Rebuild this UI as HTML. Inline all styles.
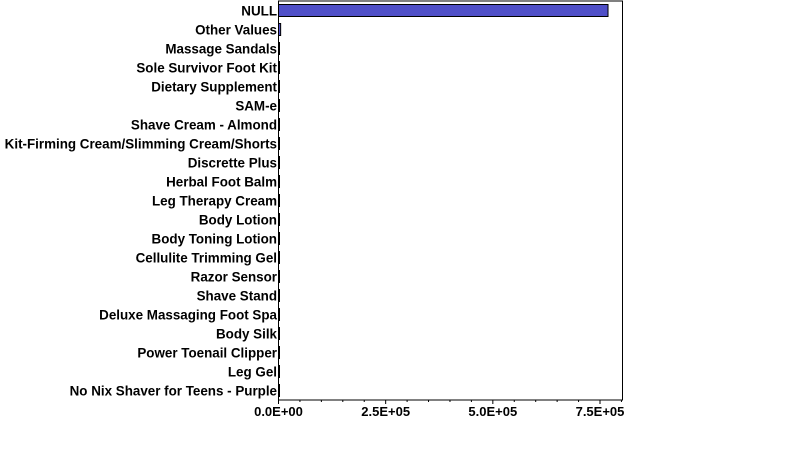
<!DOCTYPE html>
<html><head><meta charset="utf-8"><style>
body{margin:0;background:#fff;width:790px;height:444px;overflow:hidden}
svg text{font-family:"Liberation Sans",sans-serif;font-weight:bold;font-size:13.4px;fill:#000}
svg text.tick{font-size:13px}
</style></head><body>
<svg id="chart" width="790" height="444" xmlns="http://www.w3.org/2000/svg"></svg>
<script>
const categories=["NULL","Other Values","Massage Sandals","Sole Survivor Foot Kit","Dietary Supplement","SAM-e","Shave Cream - Almond","Kit-Firming Cream/Slimming Cream/Shorts","Discrette Plus","Herbal Foot Balm","Leg Therapy Cream","Body Lotion","Body Toning Lotion","Cellulite Trimming Gel","Razor Sensor","Shave Stand","Deluxe Massaging Foot Spa","Body Silk","Power Toenail Clipper","Leg Gel","No Nix Shaver for Teens - Purple"];
const values=[768700,5000,1500,1200,1100,1000,900,900,800,800,700,700,600,600,500,500,500,400,400,300,300];
const tickValues=[0,250000,500000,750000];
const tickLabels=["0.0E+00","2.5E+05","5.0E+05","7.5E+05"];
const svgEl=document.getElementById('chart');
const NS="http://www.w3.org/2000/svg";
const x0=278.5,pxPer=321.5/750000,plotTop=1,rowH=19,plotLeft=278.5,plotRight=622.5,plotBottom=400;
const xs=v=>x0+v*pxPer;
function mk(t,a){const e=document.createElementNS(NS,t);for(const k in a)e.setAttribute(k,a[k]);svgEl.appendChild(e);return e;}
const frame=mk('rect',{x:plotLeft,y:plotTop,width:plotRight-plotLeft,height:plotBottom-plotTop,fill:'#fff',stroke:'#000','stroke-width':1});


categories.forEach((c,i)=>{
  const cy=plotTop+rowH*i+9.5;
  const t=mk('text',{x:277,y:cy+5,'text-anchor':'end'});t.textContent=c;
  
  
  const w=Math.max(xs(values[i])-x0,1);
  const b=mk('rect',{x:x0,y:cy-6,width:w,height:12,fill:'#5050c8',stroke:'#000','stroke-width':1});
  
  
});
for(let v=0;v<=800000;v+=50000){
  const x=xs(v);if(x>plotRight)break;
  const major=tickValues.includes(v);
  const tk=mk('line',{x1:x,y1:plotBottom,x2:x,y2:plotBottom+(major?4:2),stroke:'#000'});
  
  
}
tickValues.forEach((v,i)=>{
  const t=mk('text',{x:xs(v),y:416,'text-anchor':'middle','class':'tick'});t.textContent=tickLabels[i];
  
  
});
</script>
</body></html>
